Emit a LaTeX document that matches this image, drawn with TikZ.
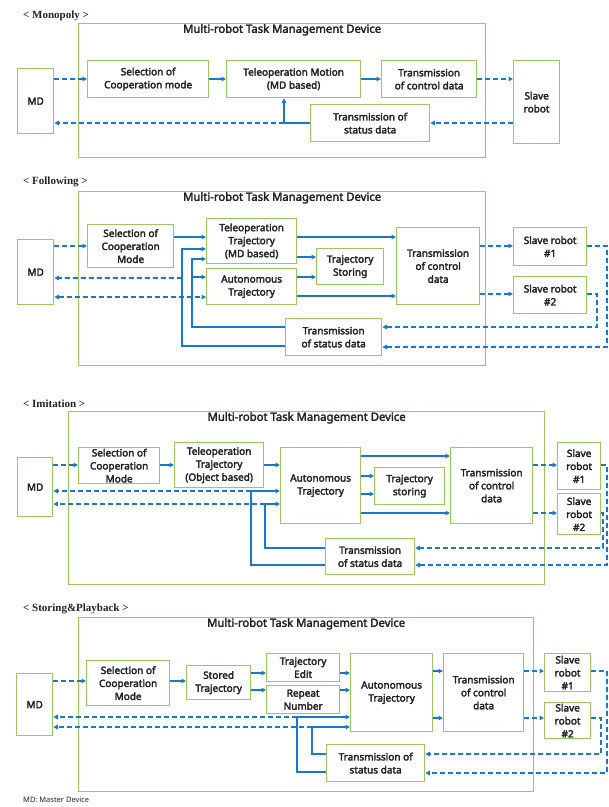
\documentclass[tikz,border=0pt]{standalone}
\usepackage{fontspec}
\setmainfont{Noto Sans}
\newfontfamily\boxf{Noto Sans}
\newfontfamily\titlefont{Liberation Serif}
\usetikzlibrary{arrows.meta,calc}
\definecolor{gbox}{RGB}{155,200,95}
\definecolor{barr}{RGB}{25,120,205}
\definecolor{txt}{RGB}{35,35,35}
\newcommand\heavytext{\special{pdf:literal direct 2 Tr 0.3 w}}
\newcommand\bx[6]{\node[box,anchor=north west,minimum width={#4-#2},minimum height={#5-#3}] (#1) at (#2,#3) {#6};}
\newcommand\bigbx[5]{\node[bigbox,anchor=north west,minimum width={#4-#2},minimum height={#5-#3}] (#1) at (#2,#3) {};
\node[mtitle,anchor=north] (#1t) at (#1.north) {Multi-robot Task Management Device};}
\begin{document}
\begin{tikzpicture}[x=1pt,y=-1pt,
 box/.style={draw=gbox,line width=1.3pt,fill=white,align=center,inner sep=1pt,text=txt,font=\boxf\fontsize{10}{13}\selectfont\heavytext},
 bigbox/.style={draw=gbox,line width=1.3pt,inner sep=0pt},
 mtitle/.style={inner sep=1pt,text=txt,font=\boxf\fontsize{11.3}{13}\selectfont\heavytext},
 ttl/.style={anchor=west,inner sep=0pt,font=\titlefont\bfseries\fontsize{11}{12}\selectfont,text=txt},
 tip/.style={-{Triangle[length=4.5pt,width=4.5pt]}},
 sarr/.style={draw=barr,line width=1.7pt,tip},
 sline/.style={draw=barr,line width=1.7pt},
 darr/.style={draw=barr,line width=1.7pt,dash pattern=on 5pt off 3pt,tip},
 ddarr/.style={draw=barr,line width=1.7pt,dash pattern=on 5pt off 3pt,{Triangle[length=4.5pt,width=4.5pt]}-{Triangle[length=4.5pt,width=4.5pt]}},
]
\useasboundingbox (0,0) rectangle (609,807);

% ================= Panel 1: Monopoly
\node[ttl] (t1) at (23,16) {< Monopoly >};
\bigbx{big1}{78}{23}{485}{157}
\bx{md1}{17}{68}{53}{133}{MD}
\bx{sel1}{87}{60}{208}{97}{Selection of\\Cooperation mode}
\bx{tele1}{226}{60}{360}{97}{Teleoperation Motion\\(MD based)}
\bx{ctl1}{381}{60}{476}{97}{Transmission\\of control data}
\bx{slave1}{513}{60}{559}{143}{Slave\\robot}
\bx{stat1}{310}{104}{429}{141}{Transmission of\\status data}
\draw[darr] (md1.east |- 0,79) -- (sel1.west |- 0,79);
\draw[sarr] (sel1.east |- 0,79) -- (tele1.west |- 0,79);
\draw[sarr] (tele1.east |- 0,79) -- (ctl1.west |- 0,79);
\draw[darr] (ctl1.east |- 0,79) -- (slave1.west |- 0,79);
\draw[darr] (slave1.west |- 0,123) -- (stat1.east |- 0,123);
\coordinate (j1) at (284,123);
\draw[sline] (stat1.west |- j1) -- (j1);
\draw[darr] (j1) -- (md1.east |- j1);
\draw[sarr] (j1) -- (j1 |- tele1.south);

% ================= Panel 2: Following
\node[ttl] (t2) at (23,182) {< Following >};
\bigbx{big2}{78}{191}{485}{365}
\bx{md2}{17}{239}{53}{304}{MD}
\bx{sel2}{87}{224}{173}{267}{Selection of\\Cooperation\\Mode}
\bx{tele2}{206}{218}{296}{263}{Teleoperation\\Trajectory\\(MD based)}
\bx{auto2}{206}{268}{296}{304}{Autonomous\\Trajectory}
\bx{stor2}{316}{248}{383}{284}{Trajectory\\Storing}
\bx{ctl2}{396}{227}{479}{304}{Transmission\\of control\\data}
\bx{sl21}{513}{227}{586}{265}{Slave robot\\\#1}
\bx{sl22}{513}{276}{586}{313}{Slave robot\\\#2}
\bx{stat2}{285}{318}{381}{355}{Transmission\\of status data}
\draw[darr] (md2.east |- 0,246) -- (sel2.west |- 0,246);
\draw[sarr] (sel2.east |- 0,237) -- (tele2.west |- 0,237);
\draw[sarr] (tele2.east |- 0,237) -- (ctl2.west |- 0,237);
\draw[sarr] (tele2.east |- 0,257) -- (stor2.west |- 0,257);
\draw[sarr] (auto2.east |- 0,277) -- (stor2.west |- 0,277);
\draw[sarr] (auto2.east |- 0,296) -- (ctl2.west |- 0,296);
\draw[darr] (ctl2.east |- 0,246) -- (sl21.west |- 0,246);
\draw[darr] (ctl2.east |- 0,294) -- (sl22.west |- 0,294);
\draw[darr] (sl21.east |- 0,246) -| (607,347) -- (stat2.east |- 0,347);
\draw[darr] (sl22.east |- 0,294) -| (597,327) -- (stat2.east |- 0,327);
\coordinate (j2a) at (182,278);
\coordinate (j2b) at (192,277);
\draw[sarr] (stat2.west |- 0,346) -| (182,249) -- (tele2.west |- 0,249);
\draw[darr] (j2a) -- (md2.east |- j2a);
\draw[sarr] (stat2.west |- 0,327) -| (192,259) -- (tele2.west |- 0,259);
\draw[sarr] (j2b) -- (auto2.west |- j2b);
\draw[ddarr] (md2.east |- 0,297) -- (auto2.west |- 0,297);

% ================= Panel 3: Imitation
\node[ttl] (t3) at (23,404) {< Imitation >};
\bigbx{big3}{68}{411}{544}{584}
\bx{md3}{17}{457}{52}{516}{MD}
\bx{sel3}{78}{447}{159}{483}{Selection of\\Cooperation\\Mode}
\bx{tele3}{174}{442}{263}{487}{Teleoperation\\Trajectory\\(Object based)}
\bx{auto3}{280}{447}{360}{523}{Autonomous\\Trajectory}
\bx{stor3}{374}{467}{444}{504}{Trajectory\\storing}
\bx{ctl3}{450}{447}{532}{523}{Transmission\\of control\\data}
\bx{sl31}{557}{442}{600}{489}{Slave\\robot\\\#1}
\bx{sl32}{557}{493}{600}{534}{Slave\\robot\\\#2}
\bx{stat3}{325}{538}{414}{574}{Transmission\\of status data}
\draw[darr] (md3.east |- 0,465) -- (sel3.west |- 0,465);
\draw[sarr] (sel3.east |- 0,465) -- (tele3.west |- 0,465);
\draw[sarr] (tele3.east |- 0,465) -- (auto3.west |- 0,465);
\draw[sarr] (auto3.east |- 0,456) -- (ctl3.west |- 0,456);
\draw[sarr] (auto3.east |- 0,476) -- (stor3.west |- 0,476);
\draw[sarr] (auto3.east |- 0,494) -- (stor3.west |- 0,494);
\draw[sarr] (auto3.east |- 0,513) -- (ctl3.west |- 0,513);
\draw[darr] (ctl3.east |- 0,465) -- (sl31.west |- 0,465);
\draw[darr] (ctl3.east |- 0,513) -- (sl32.west |- 0,513);
\draw[darr] (sl31.east |- 0,465) -| (607,565) -- (stat3.east |- 0,565);
\draw[darr] (sl32.east |- 0,513) -| (603,548) -- (stat3.east |- 0,548);
\coordinate (j3a) at (251,491);
\coordinate (j3b) at (265,504);
\draw[sarr] (stat3.west |- 0,565) -| (j3a) -- (auto3.west |- j3a);
\draw[darr] (j3a) -- (md3.east |- j3a);
\draw[sarr] (stat3.west |- 0,548) -| (j3b) -- (auto3.west |- j3b);
\draw[darr] (j3b) -- (md3.east |- j3b);

% ================= Panel 4: Storing&Playback
\node[ttl] (t4) at (23,609) {< Storing\&Playback >};
\bigbx{big4}{78}{617}{533}{791}
\bx{md4}{16}{673}{52}{735}{MD}
\bx{sel4}{86}{660}{169}{705}{Selection of\\Cooperation\\Mode}
\bx{stored4}{186}{665}{250}{699}{Stored\\Trajectory}
\bx{edit4}{266}{653}{339}{681}{Trajectory\\Edit}
\bx{rep4}{266}{685}{339}{713}{Repeat\\Number}
\bx{auto4}{350}{653}{432}{731}{Autonomous\\Trajectory}
\bx{ctl4}{443}{653}{523}{731}{Transmission\\of control\\data}
\bx{sl41}{544}{653}{590}{691}{Slave\\robot\\\#1}
\bx{sl42}{544}{702}{590}{738}{Slave\\robot\\\#2}
\bx{stat4}{326}{744}{424}{781}{Transmission of\\status data}
\draw[darr] (md4.east |- 0,681) -- (sel4.west |- 0,681);
\draw[sarr] (sel4.east |- 0,681) -- (stored4.west |- 0,681);
\draw[sarr] (stored4.east |- 0,673) -- (edit4.west |- 0,673);
\draw[sarr] (stored4.east |- 0,690) -- (rep4.west |- 0,690);
\draw[sarr] (edit4.east |- 0,673) -- (auto4.west |- 0,673);
\draw[sarr] (rep4.east |- 0,690) -- (auto4.west |- 0,690);
\draw[sarr] (auto4.east |- 0,671) -- (ctl4.west |- 0,671);
\draw[sarr] (auto4.east |- 0,718) -- (ctl4.west |- 0,718);
\draw[darr] (ctl4.east |- 0,671) -- (sl41.west |- 0,671);
\draw[darr] (ctl4.east |- 0,718) -- (sl42.west |- 0,718);
\draw[darr] (sl41.east |- 0,671) -| (607,773) -- (stat4.east |- 0,773);
\draw[darr] (sl42.east |- 0,718) -| (601,754) -- (stat4.east |- 0,754);
\coordinate (j4a) at (297,717);
\coordinate (j4b) at (312,727);
\draw[sarr] (stat4.west |- 0,772) -| (j4a) -- (auto4.west |- j4a);
\draw[darr] (j4a) -- (md4.east |- j4a);
\draw[sarr] (stat4.west |- 0,754) -| (j4b) -- (auto4.west |- j4b);
\draw[darr] (j4b) -- (md4.east |- j4b);

\node[anchor=west,inner sep=0pt,text=txt,font=\fontsize{7.5}{9}\selectfont] (fn) at (23,800) {MD: Master Device};
\end{tikzpicture}
\end{document}
